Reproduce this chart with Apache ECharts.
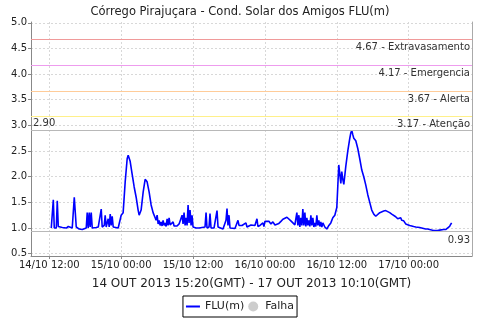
<!DOCTYPE html>
<html><head><meta charset="utf-8">
<script src="https://cdn.jsdelivr.net/npm/echarts@6/dist/echarts.min.js"></script>
<style>html,body{margin:0;padding:0;background:#fff}#c{width:480px;height:320px}</style>
</head><body><div id="c"></div>
<script>
// hours since 14/10 00:00 (local)
var hours = [12.33,12.5,12.67,12.83,13.0,13.17,13.33,13.5,13.83,14.17,14.5,14.83,15.17,15.5,15.83,16.0,16.17,16.33,16.5,16.67,17.0,17.33,17.5,17.83,18.17,18.33,18.5,18.67,18.83,19.0,19.17,19.5,19.83,20.17,20.5,20.67,20.83,21.17,21.33,21.5,21.83,22.0,22.17,22.33,22.5,22.67,23.0,23.5,23.83,24.0,24.33,24.67,25.0,25.17,25.5,25.83,26.17,26.5,26.83,27.0,27.33,27.67,28.0,28.33,28.67,29.0,29.33,29.67,29.83,30.0,30.17,30.33,30.5,30.67,30.83,31.0,31.17,31.33,31.5,31.67,31.83,32.0,32.17,32.33,32.5,32.67,32.83,33.0,33.33,33.67,34.0,34.17,34.33,34.5,34.67,34.83,35.0,35.17,35.33,35.5,35.67,35.83,36.0,36.17,36.5,37.0,37.5,37.83,38.0,38.17,38.33,38.67,38.83,39.0,39.5,39.83,40.0,40.17,40.5,41.0,41.33,41.5,41.67,41.83,42.0,42.17,42.5,43.0,43.33,43.5,43.67,43.83,44.17,44.5,44.83,45.0,45.33,45.67,46.0,46.33,46.5,46.67,46.83,47.17,47.5,47.67,47.83,48.0,48.33,48.67,49.0,49.33,49.67,50.0,50.33,50.67,51.0,51.33,51.67,52.0,52.33,52.67,53.0,53.17,53.33,53.5,53.67,53.83,54.0,54.17,54.33,54.5,54.67,54.83,55.0,55.17,55.33,55.5,55.67,55.83,56.0,56.17,56.33,56.5,56.67,56.83,57.0,57.17,57.33,57.5,57.67,58.0,58.33,58.67,59.0,59.33,59.67,60.0,60.33,60.5,60.67,60.83,61.0,61.17,61.5,61.83,62.17,62.33,62.5,62.67,62.83,63.17,63.5,63.83,64.17,64.5,64.83,65.17,65.5,65.83,66.17,66.5,66.83,67.17,67.5,67.83,68.17,68.5,68.83,69.17,69.5,69.83,70.17,70.5,70.67,70.83,71.17,71.5,71.83,72.17,72.5,72.83,73.17,73.5,73.83,74.17,74.5,74.83,75.17,75.5,75.83,76.17,76.33,76.5,76.83,77.17,77.5,77.83,78.17,78.5,78.83,79.0,79.17];
var fluValues = [1.00,1.00,1.55,1.00,1.02,1.00,1.53,1.03,1.02,1.01,1.02,1.00,1.03,1.02,1.00,1.02,1.60,1.63,1.02,1.00,0.98,1.00,0.97,0.99,1.00,1.30,1.00,1.30,1.02,1.30,1.00,0.98,1.01,1.02,1.01,1.37,1.02,1.05,1.25,1.02,1.18,1.02,1.27,1.05,1.23,1.02,1.00,1.00,1.02,1.25,1.30,1.90,2.35,2.42,2.30,2.05,1.80,1.60,1.35,1.25,1.35,1.70,1.95,1.90,1.70,1.45,1.30,1.20,1.15,1.25,1.08,1.15,1.05,1.12,1.04,1.15,1.05,1.10,1.03,1.18,1.05,1.20,1.06,1.08,1.03,1.12,1.04,1.05,1.04,1.08,1.05,1.25,1.08,1.30,1.05,1.20,1.05,1.45,1.10,1.35,1.05,1.25,1.02,1.00,1.00,1.00,1.01,1.00,1.02,1.30,1.00,1.02,1.28,1.00,1.00,1.02,1.34,1.02,0.99,0.98,1.00,1.15,1.38,1.05,1.25,1.00,0.98,0.99,1.02,1.15,1.05,1.02,1.05,1.03,1.10,1.02,1.03,1.06,1.03,1.05,1.02,1.18,1.03,1.05,1.02,1.10,1.03,1.13,1.10,1.13,1.08,1.12,1.06,1.05,1.09,1.13,1.17,1.20,1.21,1.18,1.14,1.10,1.06,1.05,1.30,1.05,1.25,1.02,1.20,1.05,1.37,1.05,1.30,1.03,1.20,1.05,1.15,1.03,1.25,1.05,1.20,1.02,1.10,1.03,1.25,1.05,1.15,1.03,1.12,1.02,1.10,1.02,0.98,1.05,1.10,1.20,1.25,1.40,2.23,2.05,1.87,2.10,1.95,1.85,2.20,2.50,2.75,2.85,2.90,2.82,2.75,2.70,2.55,2.35,2.13,2.00,1.84,1.65,1.50,1.35,1.27,1.23,1.26,1.30,1.32,1.33,1.34,1.33,1.30,1.27,1.25,1.22,1.18,1.17,1.20,1.15,1.14,1.08,1.05,1.05,1.03,1.03,1.02,1.01,1.01,1.00,0.99,0.98,0.98,0.97,0.96,0.95,0.93,0.94,0.95,0.96,0.97,0.97,0.97,0.97,1.03,1.07,1.10];
var yTicks = [0.5,1.0,1.5,2.0,2.5,3.0,3.5,4.0,4.5,5.0];
var xTicks = [12,24,36,48,60,72];
var thresholds = [4.67, 4.17, 3.67, 3.17];
var thresholdNames = ['Extravasamento','Emergencia','Alerta','Atenção'];
var thresholdColors = ['#f09a9a','#ee9cee','#ffcc99','#fff08a'];
var maxValue = 2.90, minValue = 0.93;
var titleText = 'Córrego Pirajuçara - Cond. Solar dos Amigos FLU(m)';
var axisName = '14 OUT 2013 15:20(GMT) - 17 OUT 2013 10:10(GMT)';

var data = hours.map(function(h,i){return [h, fluValues[i]];});
function pad(n){return (n<10?'0':'')+n;}
function fmtX(h){var d=14+Math.floor(h/24);var hh=Math.round(h-Math.floor(h/24)*24);return d+'/10 '+pad(hh)+':00';}

var markLines = thresholds.map(function(v,i){
  return {yAxis:v, lineStyle:{color:thresholdColors[i],type:'solid',width:1},
    label:{show:true,position:'insideEndBottom',formatter:v.toFixed(2)+' - '+thresholdNames[i],color:'#333',fontSize:10,distance:[2,3]}};
});
markLines.push({yAxis:maxValue,lineStyle:{color:'#b8b8b8',type:'solid',width:1},
  label:{show:true,position:'insideStartTop',formatter:maxValue.toFixed(2),color:'#333',fontSize:10,distance:[2,2]}});
markLines.push({yAxis:minValue,lineStyle:{color:'#b8b8b8',type:'solid',width:1},
  label:{show:true,position:'insideEndBottom',formatter:minValue.toFixed(2),color:'#333',fontSize:10,distance:[2,4]}});

var font = 'DejaVu Sans';
var chart = echarts.init(document.getElementById('c'), null, {renderer:'canvas'});
chart.setOption({
  animation:false,
  backgroundColor:'#fff',
  textStyle:{fontFamily:font},
  title:{text:titleText,left:'center',top:1,textStyle:{fontSize:11.5,fontWeight:'normal',color:'#222',fontFamily:font}},
  grid:{left:31,right:8,top:22,bottom:64},
  legend:{top:296,left:'center',borderColor:'#000',borderWidth:1,borderRadius:0,padding:[5,3,5,3],itemGap:4,
    itemWidth:14,itemHeight:10,textStyle:{fontSize:11,color:'#222',fontFamily:font},
    data:[{name:'FLU(m)',icon:'path://M0,4L14,4L14,6L0,6Z'},{name:'Falha',icon:'circle'}]},
  xAxis:{type:'value',min:8.945,max:82.57,
    name:axisName,nameLocation:'middle',nameGap:22,nameTextStyle:{fontSize:12,color:'#222',fontFamily:font},
    axisLine:{show:true,onZero:false,lineStyle:{color:'#888'}},
    axisTick:{show:true,customValues:xTicks,length:3,inside:false,lineStyle:{color:'#888'}},
    axisLabel:{customValues:xTicks,formatter:fmtX,fontSize:10,color:'#222',margin:4,fontFamily:font},
    splitLine:{show:true,lineStyle:{color:'#d8d8d8',type:[2,2]}}},
  yAxis:[{type:'value',min:0.455,max:5.015,
    axisLine:{show:true,lineStyle:{color:'#888'}},
    axisTick:{show:true,customValues:yTicks,length:3,lineStyle:{color:'#888'}},
    axisLabel:{customValues:yTicks,formatter:function(v){return v.toFixed(1);},fontSize:10,color:'#222',margin:4,fontFamily:font},
    splitLine:{show:true,lineStyle:{color:'#d8d8d8',type:[2,2]}}},
    {type:'value',position:'right',min:0.455,max:5.015,axisLine:{show:true,lineStyle:{color:'#aaa'}},axisTick:{show:false},axisLabel:{show:false},splitLine:{show:false}}],
  series:[
    {name:'FLU(m)',type:'line',data:data,showSymbol:false,symbol:'none',color:'#0000ff',lineStyle:{color:'#0000ff',width:1.6},
      markLine:{silent:true,symbol:'none',data:markLines}},
    {name:'Falha',type:'scatter',data:[],color:'#c0c0c0'}
  ]
});
</script></body></html>
